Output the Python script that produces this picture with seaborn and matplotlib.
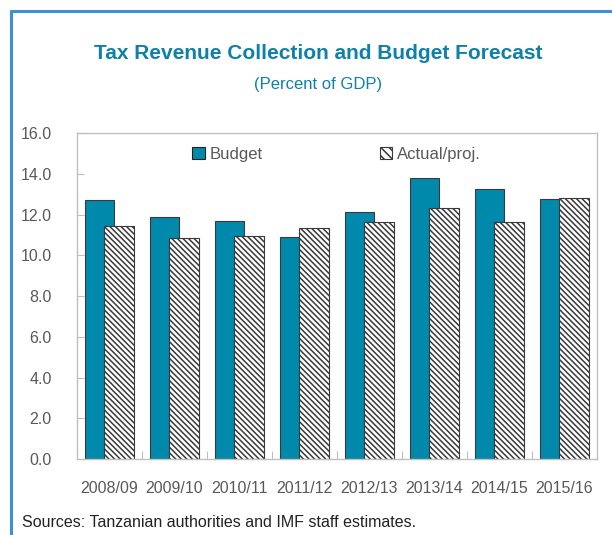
import seaborn as sns
import matplotlib.pyplot as plt
import pandas as pd
from matplotlib.patches import Patch
from matplotlib.lines import Line2D
from matplotlib.ticker import FixedLocator

years = ['2008/09', '2009/10', '2010/11', '2011/12',
         '2012/13', '2013/14', '2014/15', '2015/16']
budget = [12.7, 11.9, 11.7, 10.9, 12.15, 13.8, 13.25, 12.75]
actual = [11.45, 10.85, 10.95, 11.35, 11.65, 12.35, 11.65, 12.8]
series = ['Budget', 'Actual/proj.']

teal = '#0189ab'
title_col = '#0f80aa'
grey_txt = '#595959'
axis_col = '#bfbfbf'

sns.set_style('white')
plt.rcParams['font.family'] = ['Liberation Sans Narrow', 'Liberation Sans', 'DejaVu Sans']
plt.rcParams['hatch.color'] = '#555555'
plt.rcParams['hatch.linewidth'] = 1.1

df = pd.DataFrame({
    'year': years * 2,
    'value': budget + actual,
    'series': [series[0]] * len(years) + [series[1]] * len(years),
})

fig = plt.figure(figsize=(6.12, 5.35), dpi=100)
ax = fig.add_axes([0.1253, 0.142, 0.8497, 0.609])

sns.barplot(data=df, x='year', y='value', hue='series', hue_order=series,
            palette={series[0]: teal, series[1]: 'white'}, saturation=1,
            dodge=True, width=0.6, edgecolor='#3a3a3a', linewidth=0.8,
            legend=False, ax=ax)

# widen the bars so the pair overlaps like the original
n = len(years)
for i, p in enumerate(ax.patches[:2 * n]):
    c = p.get_x() + p.get_width() / 2
    p.set_width(0.45)
    p.set_x(c - 0.225)
    if i >= n:
        p.set_hatch('\\\\\\\\\\\\')

ax.set_xlim(-0.5, n - 0.5)
ax.set_ylim(0, 16)
ax.set_yticks([0, 2, 4, 6, 8, 10, 12, 14, 16])
ax.set_yticklabels([f'{v:.1f}' for v in range(0, 17, 2)])
ax.set_xlabel('')
ax.set_ylabel('')
ax.xaxis.set_minor_locator(FixedLocator([i + 0.5 for i in range(n - 1)]))
ax.tick_params(axis='x', which='major', length=0, pad=16, labelsize=11.5, colors=grey_txt)
ax.tick_params(axis='x', which='minor', direction='in', length=6, width=0.8, color=axis_col, bottom=True)
ax.tick_params(axis='y', direction='in', length=5, width=0.8, color=axis_col, left=True,
               pad=18, labelsize=11.5, labelcolor=grey_txt)
for s in ax.spines.values():
    s.set_visible(True)
    s.set_color(axis_col)
    s.set_linewidth(1.0)

handles = [Patch(facecolor=teal, edgecolor='#222222', linewidth=0.8, label=series[0]),
           Patch(facecolor='white', edgecolor='#3a3a3a', linewidth=0.8, hatch='\\\\\\\\', label=series[1])]
leg = ax.legend(handles=handles, loc='center', bbox_to_anchor=(0.5, 0.935), ncol=2,
                frameon=False, fontsize=12, handlelength=0.75, handleheight=0.75,
                handletextpad=0.3, columnspacing=7.0)
for t in leg.get_texts():
    t.set_color(grey_txt)

fig.text(0.52, 0.900, 'Tax Revenue Collection and Budget Forecast', ha='center', va='center',
         fontsize=15, fontweight='bold', color=title_col)
fig.text(0.52, 0.842, '(Percent of GDP)', ha='center', va='center',
         fontsize=12, color=title_col)
fig.text(0.036, 0.024, 'Sources: Tanzanian authorities and IMF staff estimates.',
         ha='left', va='center', fontsize=11.5, color='#222222')

# outer frame (left and top edges)
fig.add_artist(Line2D([0.0175, 0.0175], [0, 0.979], color='#3d8fd8', linewidth=2.2))
fig.add_artist(Line2D([0.0175, 1.0], [0.979, 0.979], color='#3d8fd8', linewidth=2.2))

fig.savefig('out.png', dpi=100)
